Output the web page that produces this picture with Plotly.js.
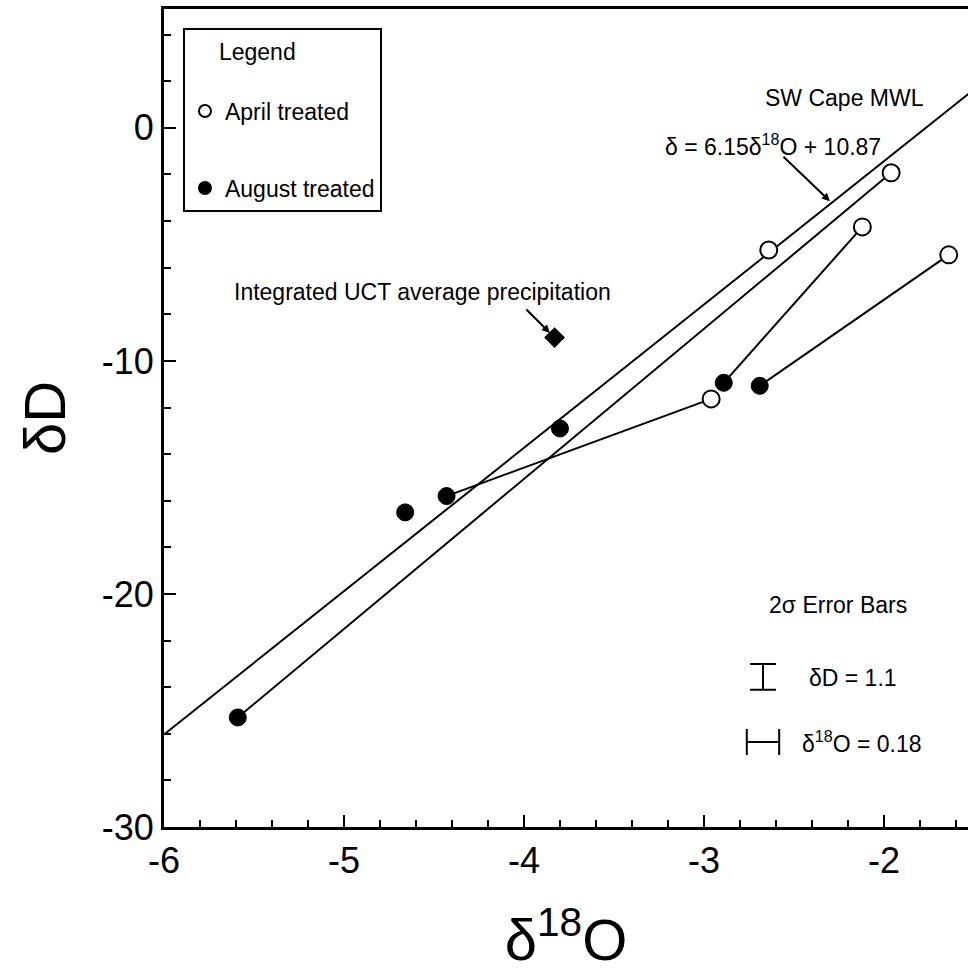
<!DOCTYPE html>
<html>
<head>
<meta charset="utf-8">
<script src="https://cdn.plot.ly/plotly-3.0.1.min.js"></script>
<style>html,body{margin:0;padding:0;background:#fff;overflow:hidden}</style>
</head>
<body>
<div id="chart" style="width:968px;height:972px"></div>
<script>
// April treated samples (open circles)
const aprilX = [-1.96, -2.12, -1.64, -2.64, -2.96];
const aprilY = [-1.93, -4.25, -5.45, -5.24, -11.63];
// August treated samples (filled circles)
const augustX = [-5.59, -4.66, -4.43, -3.80, -2.89, -2.69];
const augustY = [-25.3, -16.5, -15.8, -12.9, -10.94, -11.07];
// pairs joined by lines: [august index, april index]
const pairs = [[0, 0], [4, 1], [5, 2], [2, 4]];
// Integrated UCT average precipitation
const precipX = [-3.83];
const precipY = [-9.0];
// SW Cape meteoric water line
const mwlSlope = 6.15;
const mwlIntercept = 10.87;
const mwlXRange = [-6, -1.45];
// 2-sigma errors
const errD = 1.1;
const errO = 0.18;
// ticks
const xTickVals = [-6, -5, -4, -3, -2];
const xTickText = ['-6', '-5', '-4', '-3', '-2'];
const yTickVals = [0, -10, -20, -30];
const yTickText = ['0', '-10', '-20', '-30'];

const FONT = 'Liberation Sans, Arial, Helvetica, sans-serif';
const NB = '\u00a0';

const pairX = [], pairY = [];
pairs.forEach(([a, p]) => {
  pairX.push(augustX[a], aprilX[p], null);
  pairY.push(augustY[a], aprilY[p], null);
});

const traces = [
  {
    x: mwlXRange, y: mwlXRange.map(v => mwlSlope * v + mwlIntercept),
    mode: 'lines', line: {color: 'black', width: 2}, showlegend: false, hoverinfo: 'skip'
  },
  {
    x: pairX, y: pairY, mode: 'lines', line: {color: 'black', width: 2},
    showlegend: false, hoverinfo: 'skip', connectgaps: false
  },
  {
    x: aprilX, y: aprilY, mode: 'markers', name: 'April treated', legendgroup: 'a',
    marker: {symbol: 'circle', size: 17, color: 'white', line: {color: 'black', width: 2}}
  },
  {
    x: augustX, y: augustY, mode: 'markers', name: 'August treated', legendgroup: 'b',
    marker: {symbol: 'circle', size: 17, color: 'black', line: {color: 'black', width: 1}}
  },
  {
    x: precipX, y: precipY, mode: 'markers', showlegend: false,
    marker: {symbol: 'diamond', size: 16, color: 'black'}
  },
  {
    x: [-2.672], y: [-23.56], mode: 'markers', showlegend: false, hoverinfo: 'skip',
    marker: {size: 1, color: 'rgba(0,0,0,0)'},
    error_y: {type: 'data', array: [errD / 2], color: 'black', thickness: 2, width: 13}
  },
  {
    x: [-2.672], y: [-26.35], mode: 'markers', showlegend: false, hoverinfo: 'skip',
    marker: {size: 1, color: 'rgba(0,0,0,0)'},
    error_x: {type: 'data', array: [errO / 2], color: 'black', thickness: 2, width: 13}
  }
];

const annFont = {family: FONT, size: 23, color: 'black'};
const layout = {
  width: 968, height: 972,
  margin: {l: 164, r: 0, t: 9, b: 145},
  paper_bgcolor: 'white', plot_bgcolor: 'white',
  font: {family: FONT, color: 'black'},
  xaxis: {
    range: [-6, -1.533], showgrid: false, zeroline: false,
    showline: true, linecolor: 'black', linewidth: 3, mirror: true,
    ticks: 'inside', ticklen: 12, tickwidth: 2, tickcolor: 'black',
    tickvals: xTickVals, ticktext: xTickText,
    tickfont: {family: FONT, size: 36, color: 'black'},
    minor: {dtick: 0.2, ticks: 'inside', ticklen: 7, tickwidth: 2, tickcolor: 'black'},
    title: {text: 'δ<sup>18</sup>O', font: {family: FONT, size: 58, color: 'black'}, standoff: 42}
  },
  yaxis: {
    range: [-30, 5.1], showgrid: false, zeroline: false,
    showline: true, linecolor: 'black', linewidth: 3,
    ticks: 'inside', ticklen: 12, tickwidth: 2, tickcolor: 'black',
    tickvals: yTickVals, ticktext: yTickText,
    tickfont: {family: FONT, size: 36, color: 'black'},
    minor: {dtick: 2, ticks: 'inside', ticklen: 7, tickwidth: 2, tickcolor: 'black'},
    title: {text: 'δD', font: {family: FONT, size: 58, color: 'black'}, standoff: 18}
  },
  showlegend: true,
  legend: {
    x: 0.0236, y: 0.977, xanchor: 'left', yanchor: 'top',
    bordercolor: 'black', borderwidth: 2, bgcolor: 'white',
    font: {family: FONT, size: 23, color: 'black'},
    title: {text: NB + NB + NB + NB + NB + 'Legend<br>' + NB, font: {family: FONT, size: 23, color: 'black'}},
    tracegroupgap: 44, itemsizing: 'constant'
  },
  annotations: [
    {xref: 'paper', yref: 'paper', x: 0.846, y: 0.891, xanchor: 'center', yanchor: 'middle', text: 'SW Cape MWL', showarrow: false, font: annFont},
    {xref: 'paper', yref: 'paper', x: 0.757, y: 0.834, xanchor: 'center', yanchor: 'middle', text: 'δ = 6.15δ<sup>18</sup>O + 10.87', showarrow: false, font: annFont},
    {x: -2.30, y: -3.15, text: '', showarrow: true, ax: -48, ay: -46, arrowhead: 2, arrowsize: 0.8, arrowwidth: 2, arrowcolor: 'black'},
    {xref: 'paper', yref: 'paper', x: 0.0846, y: 0.654, xanchor: 'left', yanchor: 'middle', text: 'Integrated UCT average precipitation', showarrow: false, font: annFont},
    {x: -3.856, y: -8.8, text: '', showarrow: true, ax: -25, ay: -25, arrowhead: 2, arrowsize: 0.8, arrowwidth: 2, arrowcolor: 'black'},
    {xref: 'paper', yref: 'paper', x: 0.838, y: 0.271, xanchor: 'center', yanchor: 'middle', text: '2σ Error Bars', showarrow: false, font: annFont},
    {xref: 'paper', yref: 'paper', x: 0.8, y: 0.182, xanchor: 'left', yanchor: 'middle', text: 'δD = 1.1', showarrow: false, font: annFont},
    {xref: 'paper', yref: 'paper', x: 0.791, y: 0.104, xanchor: 'left', yanchor: 'middle', text: 'δ<sup>18</sup>O = 0.18', showarrow: false, font: annFont}
  ]
};

Plotly.newPlot('chart', traces, layout, {displayModeBar: false, staticPlot: true});
</script>
</body>
</html>
